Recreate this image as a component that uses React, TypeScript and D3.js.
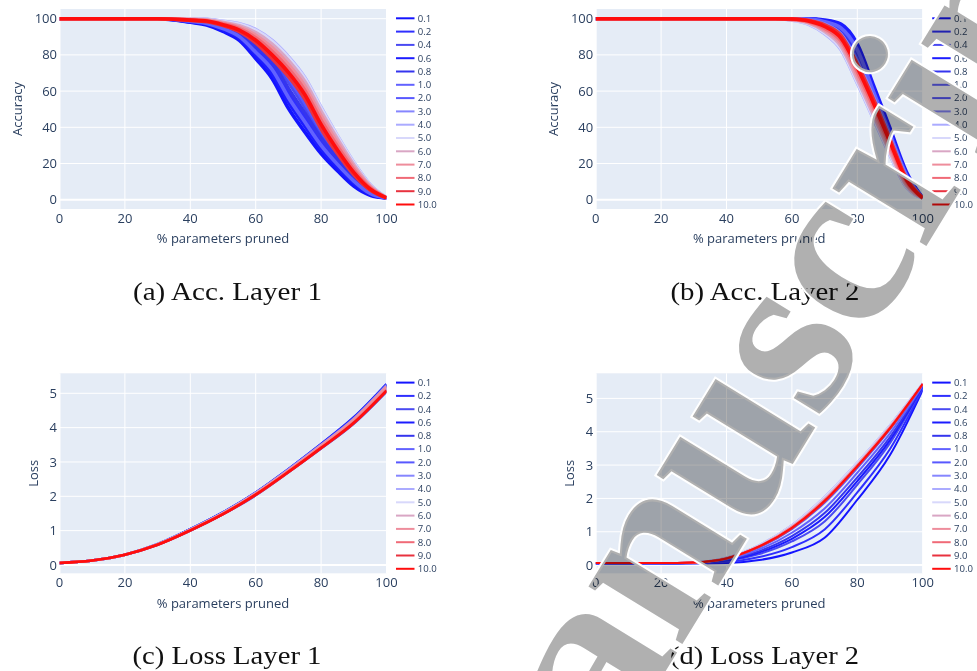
import React from 'react';
import * as d3 from 'd3';

// ---------------- data ----------------
const legendLabels = ['0.1', '0.2', '0.4', '0.6', '0.8', '1.0', '2.0', '3.0', '4.0', '5.0', '6.0', '7.0', '8.0', '9.0', '10.0'];
const seriesColors = ['#1414ff', '#2f2fff', '#4a4af2', '#1c1cff', '#3535ee', '#6262ff', '#5858ff', '#8686ff', '#ababff', '#d8d8fb', '#d9a6c4', '#ee8d9c', '#f06a77', '#e8323f', '#ff0d0d'];

const pctTicks = [0, 20, 40, 60, 80, 100];
const accTicks = [0, 20, 40, 60, 80, 100];
const lossTicks = [0, 1, 2, 3, 4, 5];

// (a) Accuracy, layer 1
const accL1X = [0, 30, 40, 45, 50, 55, 60, 65, 70, 75, 80, 85, 90, 95, 100];
const accL1Y = [
  [100, 100, 98, 96.5, 93, 88, 78, 67, 50.5, 37.5, 25.5, 16, 7.5, 2.5, 1],
  [100, 100, 98.8, 97.7, 95.2, 91, 83, 74, 59, 45.5, 32, 21, 11.5, 4, 1],
  [100, 100, 99.4, 98.6, 96.8, 93.1, 86.5, 78.9, 65, 51.1, 36.5, 24.5, 14.3, 5, 1],
  [100, 100, 98.3, 97, 93.9, 89.2, 80, 69.8, 53.9, 40.7, 28.1, 18, 9.1, 3.1, 1],
  [100, 100, 99, 98.1, 95.9, 91.9, 84.5, 76.1, 61.5, 47.9, 34, 22.5, 12.7, 4.5, 1],
  [100, 100, 98.6, 97.4, 94.6, 90.1, 81.5, 71.9, 56.5, 43.1, 30, 19.5, 10.3, 3.5, 1],
  [100, 100, 99.6, 99, 97.5, 94, 88, 81, 67.5, 53.5, 38.5, 26, 15.5, 5.5, 1],
  [100, 100, 99.8, 99.5, 98.2, 96.5, 93, 87, 78, 66.5, 50, 34.5, 20, 8, 1],
  [100, 100, 99.9, 99.7, 98.6, 97.2, 94, 88, 79, 67.5, 51, 35.3, 20.6, 8.3, 1],
  [100, 100, 99.9, 99.6, 98.4, 96.9, 93.5, 87.5, 78.5, 67, 50.5, 35, 20.3, 8.1, 1],
  [100, 100, 99.7, 99.4, 98, 96.1, 92.3, 86, 76.9, 65.3, 48.8, 33.5, 19.3, 7.7, 1],
  [100, 100, 99.6, 99.1, 97.5, 95.3, 90.9, 84, 74.7, 62.9, 46.4, 31.5, 17.9, 7.1, 1],
  [100, 100, 99.4, 98.9, 97.1, 94.5, 89.5, 82, 72.5, 60.5, 44, 29.5, 16.5, 6.5, 1],
  [100, 100, 99.1, 98.4, 96.2, 92.9, 86.7, 78, 68.1, 55.7, 39.2, 25.5, 13.7, 5.3, 1],
  [100, 100, 99.2, 98.7, 96.7, 93.7, 88.1, 80, 70.3, 58.1, 41.6, 27.5, 15.1, 5.9, 1],
];

// (b) Accuracy, layer 2
const accL2X = [0, 50, 55, 60, 65, 70, 75, 80, 85, 90, 95, 100];
const accL2Y = [
  [100, 100, 100, 100, 99.9, 98.7, 95.8, 84.2, 61, 37.7, 14.5, 1],
  [100, 100, 100, 99.9, 99.7, 97.9, 94, 81.5, 58, 35, 13, 1],
  [100, 100, 100, 99.9, 99.5, 97.3, 92.8, 79.7, 56, 33.2, 12, 1],
  [100, 100, 100, 100, 100, 99.3, 97, 86, 63, 39.5, 15.5, 1],
  [100, 100, 100, 99.8, 99.4, 96.9, 91.9, 78.4, 54.5, 31.9, 11.3, 1],
  [100, 100, 100, 99.9, 99.8, 98.3, 94.9, 82.9, 59.5, 36.4, 13.8, 1],
  [100, 100, 100, 99.8, 99.3, 96.5, 91, 77, 53, 30.5, 10.5, 1],
  [100, 100, 100, 100, 99.3, 97, 91.5, 76, 56.5, 34.5, 12.5, 1],
  [100, 100, 100, 99.2, 97, 91.8, 83, 64.5, 44.5, 24.7, 7, 1],
  [100, 100, 100, 99.3, 97.3, 92.2, 83.5, 65, 45, 25.1, 7.2, 1],
  [100, 100, 100, 99.4, 97.7, 93, 84.8, 66.6, 46.6, 26.4, 8, 1],
  [100, 100, 100, 99.5, 98, 93.9, 86.3, 68.7, 48.8, 28.2, 9, 1],
  [100, 100, 100, 99.7, 98.4, 94.8, 87.8, 70.8, 51, 30, 10, 1],
  [100, 100, 100, 99.9, 99.1, 96.6, 90.8, 75, 55.4, 33.6, 12, 1],
  [100, 100, 100, 99.8, 98.8, 95.7, 89.3, 72.9, 53.2, 31.8, 11, 1],
];

// (c) Loss, layer 1
const lossL1X = [0, 10, 20, 30, 40, 50, 60, 70, 80, 90, 100];
const lossL1Y = [
  [0.06, 0.13, 0.3, 0.6, 1.04, 1.53, 2.11, 2.79, 3.52, 4.3, 5.27],
  [0.06, 0.13, 0.3, 0.6, 1.03, 1.52, 2.09, 2.77, 3.49, 4.26, 5.22],
  [0.06, 0.13, 0.3, 0.59, 1.0, 1.48, 2.03, 2.7, 3.39, 4.12, 5.05],
  [0.06, 0.13, 0.3, 0.6, 1.02, 1.51, 2.08, 2.75, 3.47, 4.22, 5.18],
  [0.06, 0.13, 0.3, 0.61, 1.04, 1.53, 2.1, 2.79, 3.51, 4.28, 5.25],
  [0.06, 0.13, 0.3, 0.6, 1.01, 1.49, 2.06, 2.73, 3.43, 4.18, 5.12],
  [0.06, 0.13, 0.3, 0.6, 1.03, 1.51, 2.09, 2.76, 3.48, 4.24, 5.2],
  [0.06, 0.13, 0.3, 0.6, 1.03, 1.52, 2.1, 2.78, 3.5, 4.26, 5.23],
  [0.06, 0.13, 0.3, 0.6, 1.02, 1.5, 2.07, 2.74, 3.46, 4.21, 5.16],
  [0.06, 0.13, 0.3, 0.6, 1.02, 1.51, 2.08, 2.75, 3.47, 4.22, 5.18],
  [0.06, 0.13, 0.3, 0.6, 1.02, 1.5, 2.07, 2.74, 3.44, 4.19, 5.14],
  [0.06, 0.13, 0.3, 0.6, 1.03, 1.51, 2.09, 2.76, 3.48, 4.24, 5.2],
  [0.06, 0.13, 0.3, 0.6, 1.01, 1.49, 2.05, 2.72, 3.42, 4.16, 5.1],
  [0.06, 0.13, 0.3, 0.59, 1.0, 1.48, 2.04, 2.7, 3.4, 4.13, 5.06],
  [0.06, 0.13, 0.3, 0.59, 1.01, 1.48, 2.05, 2.71, 3.41, 4.14, 5.08],
];

// (d) Loss, layer 2
const lossL2X = [0, 20, 30, 40, 50, 60, 70, 80, 90, 100];
const lossL2Y = [
  [0.05, 0.05, 0.05, 0.06, 0.15, 0.38, 0.82, 1.96, 3.3, 5.25],
  [0.05, 0.05, 0.06, 0.09, 0.24, 0.54, 1.07, 2.18, 3.48, 5.29],
  [0.05, 0.05, 0.06, 0.12, 0.33, 0.71, 1.31, 2.41, 3.66, 5.33],
  [0.05, 0.05, 0.07, 0.14, 0.38, 0.79, 1.44, 2.52, 3.75, 5.35],
  [0.05, 0.05, 0.07, 0.16, 0.42, 0.87, 1.56, 2.63, 3.84, 5.37],
  [0.05, 0.05, 0.07, 0.18, 0.47, 0.97, 1.7, 2.77, 3.95, 5.39],
  [0.05, 0.05, 0.08, 0.2, 0.53, 1.08, 1.87, 2.91, 4.07, 5.42],
  [0.06, 0.06, 0.08, 0.22, 0.6, 1.2, 2.05, 3.08, 4.2, 5.45],
  [0.06, 0.06, 0.08, 0.22, 0.59, 1.18, 2.03, 3.06, 4.18, 5.45],
  [0.06, 0.06, 0.08, 0.22, 0.6, 1.2, 2.05, 3.08, 4.2, 5.45],
  [0.06, 0.06, 0.08, 0.21, 0.58, 1.16, 1.99, 3.02, 4.16, 5.44],
  [0.06, 0.06, 0.08, 0.21, 0.57, 1.14, 1.96, 3.0, 4.14, 5.44],
  [0.06, 0.06, 0.08, 0.2, 0.56, 1.12, 1.93, 2.97, 4.11, 5.43],
  [0.06, 0.06, 0.08, 0.2, 0.55, 1.1, 1.9, 2.95, 4.09, 5.43],
  [0.06, 0.06, 0.08, 0.2, 0.56, 1.12, 1.93, 2.97, 4.11, 5.43],
];

const captions = ['(a) Acc. Layer 1', '(b) Acc. Layer 2', '(c) Loss Layer 1', '(d) Loss Layer 2'];
const watermarkText = 'Manuscript';

// ---------------- layout ----------------
const FONT = '"Open Sans", verdana, arial, sans-serif';
const INK = '#2a3f5f';

type PanelSpec = {
  id: string;
  left: number; right: number; top: number; bottom: number;
  yDomain: [number, number];
  yTicks: number[];
  yTitle: string;
  yTitleX: number;
  xs: number[];
  ys: number[][];
  lineWidth: number;
  caption: string;
  captionX: number;
  captionY: number;
};

const panels: PanelSpec[] = [
  { id: 'a', left: 59.5, right: 386.5, top: 9, bottom: 209, yDomain: [-5.14, 105.36], yTicks: accTicks, yTitle: 'Accuracy', yTitleX: 17.7, xs: accL1X, ys: accL1Y, lineWidth: 3.6, caption: captions[0], captionX: 227.5, captionY: 299.5 },
  { id: 'b', left: 595.7, right: 922.7, top: 9, bottom: 209, yDomain: [-5.14, 105.36], yTicks: accTicks, yTitle: 'Accuracy', yTitleX: 553.5, xs: accL2X, ys: accL2Y, lineWidth: 3.6, caption: captions[1], captionX: 765, captionY: 299.5 },
  { id: 'c', left: 59.5, right: 386.5, top: 373.3, bottom: 573.3, yDomain: [-0.242, 5.582], yTicks: lossTicks, yTitle: 'Loss', yTitleX: 33, xs: lossL1X, ys: lossL1Y, lineWidth: 2.6, caption: captions[2], captionX: 227, captionY: 663.5 },
  { id: 'd', left: 595.7, right: 922.7, top: 373.3, bottom: 573.3, yDomain: [-0.246, 5.753], yTicks: lossTicks, yTitle: 'Loss', yTitleX: 569.5, xs: lossL2X, ys: lossL2Y, lineWidth: 2, caption: captions[3], captionX: 764.5, captionY: 663.5 },
];

function Panel({ p }: { p: PanelSpec }) {
  const x = d3.scaleLinear().domain([0, 100]).range([p.left, p.right]);
  const y = d3.scaleLinear().domain(p.yDomain).range([p.bottom, p.top]);
  const line = d3
    .line<[number, number]>()
    .x((d) => x(d[0]))
    .y((d) => y(d[1]))
    .curve(d3.curveMonotoneX);
  const clipId = `clip-${p.id}`;
  const legendTop = p.top + 9.3;
  const legendStep = 13.3;
  return (
    <g>
      <defs>
        <clipPath id={clipId}>
          <rect x={p.left} y={p.top} width={p.right - p.left} height={p.bottom - p.top} />
        </clipPath>
      </defs>
      <rect x={p.left} y={p.top} width={p.right - p.left} height={p.bottom - p.top} fill="#E5ECF6" />
      {pctTicks.map((t) => (
        <line key={'gx' + t} x1={x(t)} x2={x(t)} y1={p.top} y2={p.bottom} stroke="#fff" strokeWidth={t === 0 ? 2 : 1} />
      ))}
      {p.yTicks.map((t) => (
        <line key={'gy' + t} x1={p.left} x2={p.right} y1={y(t)} y2={y(t)} stroke="#fff" strokeWidth={t === 0 ? 2 : 1} />
      ))}
      <g clipPath={`url(#${clipId})`}>
        {p.ys.map((vals, i) => (
          <path
            key={i}
            d={line(vals.map((v, j) => [p.xs[j], v] as [number, number])) || ''}
            fill="none"
            stroke={seriesColors[i]}
            strokeWidth={p.lineWidth}
            strokeLinejoin="round"
          />
        ))}
      </g>
      {pctTicks.map((t) => (
        <text key={'tx' + t} x={x(t)} y={p.bottom + 9.3} dy="0.35em" textAnchor="middle" fontFamily={FONT} fontSize={13} fill={INK}>
          {t}
        </text>
      ))}
      {p.yTicks.map((t) => (
        <text key={'ty' + t} x={p.left - 2.5} y={y(t)} dy="0.35em" textAnchor="end" fontFamily={FONT} fontSize={13} fill={INK}>
          {t}
        </text>
      ))}
      <text x={(p.left + p.right) / 2} y={p.bottom + 29.8} dy="0.35em" textAnchor="middle" fontFamily={FONT} fontSize={13} fill={INK}>
        % parameters pruned
      </text>
      <text
        transform={`translate(${p.yTitleX},${(p.top + p.bottom) / 2}) rotate(-90)`}
        dy="0.35em"
        textAnchor="middle"
        fontFamily={FONT}
        fontSize={13}
        fill={INK}
      >
        {p.yTitle}
      </text>
      {legendLabels.map((lab, i) => (
        <g key={'lg' + i}>
          <line x1={p.right + 9.5} x2={p.right + 28} y1={legendTop + i * legendStep} y2={legendTop + i * legendStep} stroke={seriesColors[i]} strokeWidth={2} />
          <text x={p.right + 31.3} y={legendTop + i * legendStep} dy="0.35em" fontFamily={FONT} fontSize={9.6} fill={INK}>
            {lab}
          </text>
        </g>
      ))}
      <text x={p.captionX} y={p.captionY} textAnchor="middle" fontFamily='"Liberation Serif", "DejaVu Serif", serif' fontSize={26} fill="#111" textLength={189} lengthAdjust="spacingAndGlyphs">
        {p.caption}
      </text>
    </g>
  );
}

export default function App() {
  const W = 977;
  const H = 671;
  const wmTransform = 'translate(498,945) rotate(-58.5)';
  return (
    <svg width={W} height={H} viewBox={`0 0 ${W} ${H}`} style={{ position: 'absolute', left: 0, top: 0, display: 'block' }}>
      <rect x={0} y={0} width={W} height={H} fill="#fff" />
      {panels.map((p) => (
        <Panel key={p.id} p={p} />
      ))}
      <text transform={wmTransform} fontFamily='"Liberation Serif", serif' fontWeight="bold" fontSize={240} fill="none" stroke="#fff" strokeWidth={4}>
        {watermarkText}
      </text>
      <g style={{ mixBlendMode: 'multiply' }}>
        <text transform={wmTransform} fontFamily='"Liberation Serif", serif' fontWeight="bold" fontSize={240} fill="#b0b0b0">
          {watermarkText}
        </text>
      </g>
    </svg>
  );
}
